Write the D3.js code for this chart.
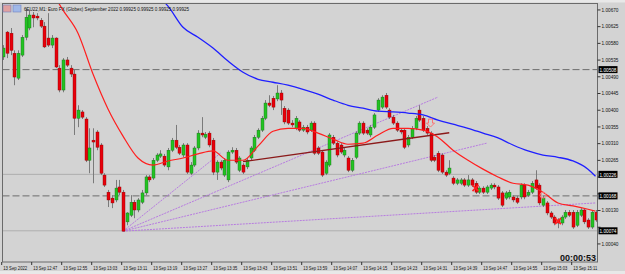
<!DOCTYPE html>
<html>
<head>
<meta charset="utf-8">
<script src="https://cdn.jsdelivr.net/npm/d3@7"></script>
<style>
  html, body { margin: 0; padding: 0; background: #d3d3d3; overflow: hidden; }
  svg { display: block; }
  text { font-family: "Liberation Sans", Arial, sans-serif; }
</style>
</head>
<body>
<svg id="chart" width="625" height="274"></svg>
<script>
// ---- data (M1 bars, 13 Sep 12:39 onwards) ----
const timeLabels = ["13 Sep 2022", "13 Sep 12:47", "13 Sep 12:55", "13 Sep 13:03", "13 Sep 13:11",
  "13 Sep 13:19", "13 Sep 13:27", "13 Sep 13:35", "13 Sep 13:43", "13 Sep 13:51", "13 Sep 13:59",
  "13 Sep 14:07", "13 Sep 14:15", "13 Sep 14:23", "13 Sep 14:31", "13 Sep 14:39", "13 Sep 14:47",
  "13 Sep 14:55", "13 Sep 15:03", "13 Sep 15:11"];
const labelBars = [0, 8, 16, 24, 32, 40, 48, 56, 64, 72, 80, 88, 96, 104, 112, 120, 128, 136, 144, 152];

const priceTicks = [1.00670, 1.00625, 1.00580, 1.00535, 1.00490, 1.00445, 1.00400, 1.00355,
  1.00310, 1.00265, 1.00220, 1.00175, 1.00130, 1.00085, 1.00040];

const open = [1.00542,1.00609,1.00606,1.00552,1.00485,1.00547,1.00595,1.00620,1.00655,1.00652,
  1.00641,1.00625,1.00593,1.00574,1.00593,1.00512,1.00453,1.00534,1.00512,1.00496,
  1.00377,1.00394,1.00375,1.00264,1.00318,1.00340,1.00305,1.00224,1.00178,1.00162,
  1.00157,1.00192,1.00178,1.00098,1.00116,1.00151,1.00130,1.00151,1.00176,1.00219,
  1.00216,1.00264,1.00275,1.00275,1.00246,1.00291,1.00318,1.00299,1.00278,1.00305,
  1.00229,1.00251,1.00297,1.00337,1.00326,1.00337,1.00318,1.00232,1.00259,1.00224,
  1.00211,1.00286,1.00291,1.00237,1.00251,1.00246,1.00270,1.00291,1.00326,1.00345,
  1.00377,1.00418,1.00431,1.00429,1.00445,1.00404,1.00399,1.00364,1.00350,1.00367,
  1.00345,1.00353,1.00345,1.00364,1.00297,1.00286,1.00229,1.00251,1.00326,1.00310,
  1.00305,1.00278,1.00270,1.00237,1.00272,1.00337,1.00364,1.00345,1.00332,1.00353,
  1.00399,1.00407,1.00439,1.00399,1.00380,1.00364,1.00345,1.00345,1.00305,1.00326,
  1.00350,1.00399,1.00377,1.00350,1.00337,1.00272,1.00283,1.00278,1.00232,1.00229,
  1.00216,1.00202,1.00202,1.00211,1.00197,1.00211,1.00202,1.00178,1.00189,1.00178,
  1.00189,1.00197,1.00192,1.00176,1.00162,1.00165,1.00165,1.00162,1.00165,1.00197,
  1.00170,1.00178,1.00211,1.00197,1.00143,1.00149,1.00122,1.00111,1.00103,1.00095,
  1.00111,1.00124,1.00124,1.00089,1.00116,1.00130,1.00103,1.00084,1.00124];
const high = [1.00574,1.00612,1.00620,1.00560,1.00560,1.00601,1.00673,1.00668,1.00663,1.00660,
  1.00647,1.00636,1.00660,1.00601,1.00595,1.00520,1.00539,1.00542,1.00520,1.00507,
  1.00412,1.00399,1.00380,1.00350,1.00350,1.00345,1.00310,1.00229,1.00184,1.00170,
  1.00211,1.00211,1.00184,1.00124,1.00170,1.00157,1.00162,1.00184,1.00224,1.00224,
  1.00270,1.00283,1.00291,1.00281,1.00297,1.00324,1.00359,1.00305,1.00310,1.00310,
  1.00259,1.00302,1.00345,1.00380,1.00340,1.00342,1.00324,1.00264,1.00264,1.00270,
  1.00291,1.00299,1.00297,1.00275,1.00256,1.00270,1.00302,1.00332,1.00350,1.00383,
  1.00426,1.00439,1.00437,1.00466,1.00453,1.00410,1.00404,1.00372,1.00383,1.00372,
  1.00359,1.00359,1.00369,1.00369,1.00302,1.00291,1.00264,1.00337,1.00332,1.00315,
  1.00310,1.00297,1.00275,1.00270,1.00342,1.00369,1.00369,1.00350,1.00359,1.00391,
  1.00431,1.00439,1.00445,1.00404,1.00386,1.00369,1.00350,1.00350,1.00332,1.00356,
  1.00383,1.00412,1.00383,1.00356,1.00342,1.00278,1.00289,1.00283,1.00237,1.00264,
  1.00221,1.00216,1.00216,1.00216,1.00224,1.00216,1.00208,1.00194,1.00194,1.00197,
  1.00202,1.00202,1.00197,1.00181,1.00181,1.00184,1.00170,1.00168,1.00202,1.00202,
  1.00184,1.00208,1.00237,1.00202,1.00168,1.00154,1.00127,1.00116,1.00108,1.00116,
  1.00130,1.00130,1.00130,1.00130,1.00135,1.00135,1.00108,1.00130,1.00130];
const low = [1.00534,1.00539,1.00547,1.00466,1.00480,1.00542,1.00587,1.00614,1.00622,1.00641,
  1.00620,1.00566,1.00569,1.00566,1.00512,1.00447,1.00447,1.00515,1.00488,1.00332,
  1.00353,1.00375,1.00259,1.00229,1.00202,1.00291,1.00224,1.00192,1.00138,1.00135,
  1.00151,1.00170,1.00073,1.00089,1.00111,1.00108,1.00124,1.00146,1.00170,1.00205,
  1.00211,1.00259,1.00270,1.00246,1.00237,1.00286,1.00294,1.00278,1.00272,1.00227,
  1.00224,1.00246,1.00291,1.00326,1.00321,1.00299,1.00224,1.00211,1.00237,1.00219,
  1.00205,1.00281,1.00254,1.00232,1.00227,1.00240,1.00264,1.00286,1.00321,1.00340,
  1.00372,1.00407,1.00399,1.00423,1.00386,1.00361,1.00359,1.00353,1.00345,1.00340,
  1.00340,1.00334,1.00340,1.00278,1.00278,1.00219,1.00224,1.00246,1.00305,1.00272,
  1.00281,1.00272,1.00232,1.00232,1.00267,1.00332,1.00332,1.00332,1.00326,1.00348,
  1.00394,1.00402,1.00402,1.00375,1.00359,1.00340,1.00334,1.00294,1.00299,1.00321,
  1.00345,1.00367,1.00340,1.00332,1.00259,1.00259,1.00232,1.00227,1.00219,1.00224,
  1.00197,1.00197,1.00197,1.00192,1.00192,1.00192,1.00173,1.00173,1.00173,1.00173,
  1.00184,1.00186,1.00157,1.00138,1.00157,1.00159,1.00151,1.00146,1.00159,1.00159,
  1.00165,1.00173,1.00184,1.00143,1.00138,1.00116,1.00106,1.00089,1.00081,1.00089,
  1.00106,1.00111,1.00079,1.00084,1.00111,1.00092,1.00079,1.00079,1.00098];
const close = [1.00566,1.00552,1.00560,1.00488,1.00552,1.00595,1.00649,1.00655,1.00647,1.00647,
  1.00625,1.00569,1.00574,1.00593,1.00515,1.00453,1.00534,1.00520,1.00496,1.00377,
  1.00399,1.00380,1.00264,1.00297,1.00313,1.00299,1.00229,1.00197,1.00157,1.00149,
  1.00189,1.00178,1.00073,1.00122,1.00151,1.00130,1.00157,1.00176,1.00219,1.00211,
  1.00264,1.00278,1.00281,1.00251,1.00291,1.00318,1.00299,1.00283,1.00305,1.00232,
  1.00251,1.00297,1.00337,1.00332,1.00334,1.00305,1.00232,1.00259,1.00243,1.00264,
  1.00286,1.00291,1.00259,1.00270,1.00232,1.00264,1.00297,1.00326,1.00345,1.00377,
  1.00418,1.00412,1.00407,1.00445,1.00426,1.00367,1.00364,1.00359,1.00377,1.00345,
  1.00353,1.00340,1.00364,1.00283,1.00283,1.00224,1.00259,1.00332,1.00310,1.00278,
  1.00286,1.00291,1.00237,1.00264,1.00337,1.00364,1.00337,1.00337,1.00353,1.00386,
  1.00426,1.00434,1.00407,1.00380,1.00364,1.00345,1.00340,1.00299,1.00326,1.00350,
  1.00377,1.00372,1.00345,1.00337,1.00264,1.00264,1.00237,1.00232,1.00224,1.00243,
  1.00202,1.00211,1.00211,1.00197,1.00211,1.00197,1.00178,1.00189,1.00178,1.00192,
  1.00197,1.00192,1.00162,1.00143,1.00176,1.00178,1.00157,1.00151,1.00197,1.00165,
  1.00178,1.00202,1.00189,1.00149,1.00162,1.00122,1.00111,1.00095,1.00095,1.00111,
  1.00124,1.00116,1.00084,1.00124,1.00130,1.00098,1.00084,1.00124,1.00103];

// moving averages (red = fast, blue = slow), sampled at these bars
const redBars = [0,4,8,12,16,20,24,28,32,36,40,44,48,52,56,60,64,68,72,76,80,84,88,92,96,
  100,104,108,112,116,120,124,128,132,136,140,144,148,152,156,158];
const redMA = [1.00924,1.00856,1.00797,1.00735,1.00668,1.00606,1.00496,1.00402,1.00329,1.00270,
  1.00251,1.00262,1.00270,1.00281,1.00289,1.00264,1.00264,1.00302,1.00342,1.00350,
  1.00350,1.00337,1.00321,1.00307,1.00310,1.00332,1.00350,1.00350,1.00345,1.00326,
  1.00291,1.00264,1.00240,1.00219,1.00202,1.00197,1.00178,1.00149,1.00141,1.00132,1.00127];
const blueBars = [32,36,40,44,48,52,56,60,64,68,72,76,80,84,88,92,96,100,104,108,112,116,
  120,124,128,132,136,140,144,148,152,156,158];
const blueMA = [1.00808,1.00762,1.00717,1.00679,1.00622,1.00595,1.00566,1.00531,1.00501,1.00482,
  1.00474,1.00466,1.00455,1.00442,1.00426,1.00412,1.00404,1.00396,1.00394,1.00391,
  1.00386,1.00372,1.00361,1.00350,1.00337,1.00324,1.00305,1.00289,1.00278,1.00272,
  1.00262,1.00240,1.00221];

// drawn objects
const fanAnchorBar = 32, fanAnchorPrice = 1.00073;
const fanEndBars = [58, 116, 129, 158];
const fanEndPrices = [1.00283, 1.00434, 1.00310, 1.00149];
const trendBars = [64, 119];
const trendPrices = [1.00260, 1.00338];
const dashedLevels = [1.00508, 1.00168];
const dottedLevels = [1.00226, 1.00074];
const crossBars = [126, 148], crossPrices = [1.00189, 1.00100];
const arrowBars = [114], arrowPrices = [1.00356];
const ringBars = [144], ringPrices = [1.00170];

const titleText = "6EU22,M1:  Euro FX (Globex) September 2022  0.99925 0.99925 0.99925 0.99925";
const timerText = "00:00:53";

// ---- layout ----
const svg = d3.select("#chart");
const plotL = 2.5, plotR = 597.5, plotT = 3.5, plotB = 262;
const x = d3.scaleLinear().domain([0, 158]).range([3, 595.5]);
const y = d3.scaleLinear().domain([0.99990, 1.00686]).range([plotB, plotT]);

svg.append("rect").attr("width", 625).attr("height", 274).attr("fill", "#d3d3d3");
// top and bottom window strips
svg.append("rect").attr("width", 625).attr("height", 2.5).attr("fill", "#e8e8e8");
svg.append("rect").attr("y", 271).attr("width", 625).attr("height", 3).attr("fill", "#e8e8e8");

svg.append("defs").append("clipPath").attr("id", "clip")
  .append("rect").attr("x", plotL).attr("y", plotT).attr("width", plotR - plotL).attr("height", plotB - plotT);

const g = svg.append("g").attr("clip-path", "url(#clip)");

// horizontal levels
g.selectAll(".dash").data(dashedLevels).join("line")
  .attr("x1", plotL).attr("x2", plotR).attr("y1", d => y(d)).attr("y2", d => y(d))
  .attr("stroke", "#6e6e6e").attr("stroke-width", 1).attr("stroke-dasharray", "7,3");
g.selectAll(".dot").data(dottedLevels).join("line")
  .attr("x1", plotL).attr("x2", plotR).attr("y1", d => y(d)).attr("y2", d => y(d))
  .attr("stroke", "#8a8a8a").attr("stroke-width", 1).attr("stroke-dasharray", "1,1");

// fan lines
g.selectAll(".fan").data(fanEndBars).join("line")
  .attr("x1", x(fanAnchorBar)).attr("y1", y(fanAnchorPrice))
  .attr("x2", d => x(d)).attr("y2", (d, i) => y(fanEndPrices[i]))
  .attr("stroke", "#b77be0").attr("stroke-width", 1).attr("stroke-dasharray", "2,1");

const bars = d3.range(open.length);

// wicks
g.selectAll(".wick").data(bars).join("line")
  .attr("x1", i => Math.round(x(i)) + 0.5).attr("x2", i => Math.round(x(i)) + 0.5)
  .attr("y1", i => y(high[i])).attr("y2", i => y(low[i]))
  .attr("stroke", "#7a7a7a").attr("stroke-width", 1);

// bodies
g.selectAll(".body").data(bars).join("rect")
  .attr("x", i => Math.round(x(i)) - 1)
  .attr("y", i => y(Math.max(open[i], close[i])))
  .attr("width", 3)
  .attr("height", i => Math.max(1, Math.abs(y(open[i]) - y(close[i]))))
  .attr("fill", i => close[i] >= open[i] ? "#22c322" : "#e8000b")
  .attr("stroke", i => close[i] >= open[i] ? "#1a6e1a" : "#8c0000")
  .attr("stroke-width", 0.4);

// trend line
g.append("line")
  .attr("x1", x(trendBars[0])).attr("y1", y(trendPrices[0]))
  .attr("x2", x(trendBars[1])).attr("y2", y(trendPrices[1]))
  .attr("stroke", "#8b1a1a").attr("stroke-width", 1.3);

// moving averages
const line = d3.line().curve(d3.curveMonotoneX);
g.append("path")
  .attr("d", line(redBars.map((b, i) => [x(b), y(redMA[i])])))
  .attr("fill", "none").attr("stroke", "#ff1f1f").attr("stroke-width", 1.2);
g.append("path")
  .attr("d", line(blueBars.map((b, i) => [x(b), y(blueMA[i])])))
  .attr("fill", "none").attr("stroke", "#1f1fff").attr("stroke-width", 1.3);

// trade markers
crossBars.forEach((b, i) => {
  const cx = x(b), cy = y(crossPrices[i]);
  g.append("path").attr("d", `M${cx - 3},${cy - 3}L${cx + 3},${cy + 3}M${cx + 3},${cy - 3}L${cx - 3},${cy + 3}`)
    .attr("stroke", "#ff2020").attr("stroke-width", 1.6);
});
arrowBars.forEach((b, i) => {
  const cx = x(b), cy = y(arrowPrices[i]);
  g.append("path").attr("d", `M${cx - 2},${cy - 7}h4v4h2l-4,4l-4,-4h2z`)
    .attr("fill", "none").attr("stroke", "#ff6a6a").attr("stroke-width", 0.9);
});
ringBars.forEach((b, i) => {
  g.append("circle").attr("cx", x(b)).attr("cy", y(ringPrices[i])).attr("r", 3)
    .attr("fill", "none").attr("stroke", "#ff8080").attr("stroke-width", 0.9);
});

// plot frame
svg.append("rect").attr("x", plotL).attr("y", plotT).attr("width", plotR - plotL).attr("height", plotB - plotT)
  .attr("fill", "none").attr("stroke", "#6a6a6a").attr("stroke-width", 1);

// level tags on the price axis (they sit on top of the tick labels they cover)
const tags = dashedLevels.concat(dottedLevels);
const covered = t => tags.some(v => Math.abs(y(v) - y(t)) < 6.5);

// price axis
const yAxis = svg.append("g").attr("transform", `translate(${plotR},0)`)
  .call(d3.axisRight(y).tickValues(priceTicks).tickFormat(d3.format(".5f")).tickSize(3).tickPadding(1));
yAxis.select(".domain").remove();
yAxis.selectAll(".tick line").attr("stroke", "#333");
yAxis.selectAll(".tick text").attr("fill", "#111").attr("font-size", 5.6)
  .attr("font-family", "Liberation Sans, Arial, sans-serif").attr("textLength", 17).attr("lengthAdjust", "spacingAndGlyphs")
  .style("display", d => covered(d) ? "none" : null);

const tag = svg.selectAll(".tag").data(tags).join("g").attr("transform", d => `translate(${plotR + 1},${y(d)})`);
tag.append("rect").attr("x", 0).attr("y", -3.5).attr("width", 19).attr("height", 7).attr("fill", "#000");
tag.append("text").attr("x", 1).attr("y", 2.2).attr("fill", "#fff").attr("font-size", 5.6)
  .attr("textLength", 17).attr("lengthAdjust", "spacingAndGlyphs").text(d => d3.format(".5f")(d));

// time axis
const xAxis = svg.append("g").attr("transform", `translate(0,${plotB})`)
  .call(d3.axisBottom(x).tickValues(labelBars).tickFormat((d, i) => timeLabels[i]).tickSize(3).tickPadding(1.5));
xAxis.select(".domain").remove();
xAxis.selectAll(".tick").attr("transform", d => `translate(${x(d) - 1.3},0)`);
xAxis.selectAll(".tick line").attr("stroke", "#333");
xAxis.selectAll(".tick text").attr("fill", "#111").attr("font-size", 4.9).attr("text-anchor", "start")
  .attr("x", 1.5).attr("font-family", "Liberation Sans, Arial, sans-serif")
  .attr("textLength", 24).attr("lengthAdjust", "spacingAndGlyphs");

// header
svg.append("rect").attr("x", 3).attr("y", 5).attr("width", 8).attr("height", 7).attr("fill", "#e0a0a0").attr("stroke", "#7080c0").attr("stroke-width", 0.6);
svg.append("rect").attr("x", 13).attr("y", 5).attr("width", 8).attr("height", 7).attr("fill", "#a0b8e8").attr("stroke", "#7080c0").attr("stroke-width", 0.6);
svg.append("text").attr("x", 24).attr("y", 10.8).attr("font-size", 5.4).attr("fill", "#111")
  .attr("textLength", 165).attr("lengthAdjust", "spacingAndGlyphs").text(titleText);

// countdown
svg.append("text").attr("x", 596).attr("y", 260.5).attr("text-anchor", "end")
  .attr("font-size", 9).attr("font-weight", "bold").attr("fill", "#111")
  .attr("font-family", "DejaVu Sans Mono, monospace").text(timerText);
</script>
</body>
</html>
